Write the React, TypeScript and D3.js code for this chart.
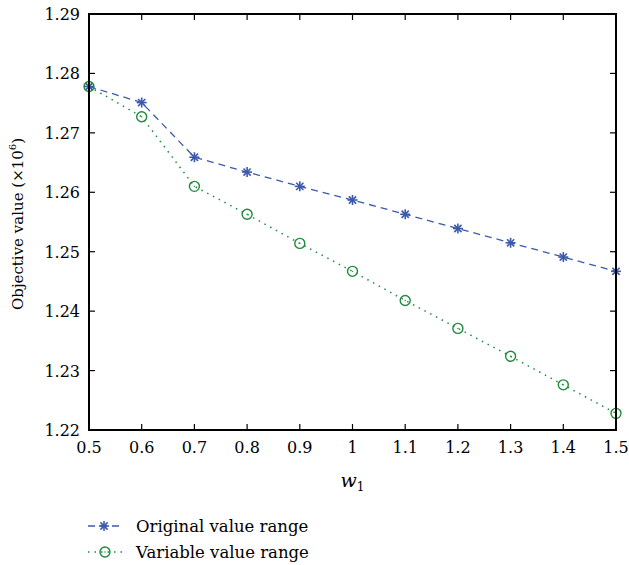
import React from "react";
import * as d3 from "d3";

const MARGIN = { top: 14, right: 13, bottom: 135, left: 89 };
const W = 629;
const H = 565;

const xValues = [0.5, 0.6, 0.7, 0.8, 0.9, 1.0, 1.1, 1.2, 1.3, 1.4, 1.5];
const originalRange = [1.2778, 1.2751, 1.2659, 1.2634, 1.2610, 1.2587, 1.2563, 1.2539, 1.2515, 1.2491, 1.2467];
const variableRange = [1.2778, 1.2727, 1.2610, 1.2563, 1.2514, 1.2467, 1.2418, 1.2371, 1.2324, 1.2276, 1.2228];
const xTicks = [0.5, 0.6, 0.7, 0.8, 0.9, 1, 1.1, 1.2, 1.3, 1.4, 1.5];
const yTicks = [1.22, 1.23, 1.24, 1.25, 1.26, 1.27, 1.28, 1.29];

const BLUE = "#3a5aab";
const GREEN = "#1f8a3c";
const FONT = "'DejaVu Serif', serif";

const Star = ({ x, y }: { x: number; y: number }) => {
  const r = 5;
  return (
    <g stroke={BLUE} strokeWidth={1.6}>
      <line x1={x - r} y1={y} x2={x + r} y2={y} />
      <line x1={x} y1={y - r} x2={x} y2={y + r} />
      <line x1={x - r * 0.72} y1={y - r * 0.72} x2={x + r * 0.72} y2={y + r * 0.72} />
      <line x1={x - r * 0.72} y1={y + r * 0.72} x2={x + r * 0.72} y2={y - r * 0.72} />
    </g>
  );
};

const Ring = ({ x, y }: { x: number; y: number }) => (
  <g>
    <circle cx={x} cy={y} r={5} fill="none" stroke={GREEN} strokeWidth={1.4} />
    <circle cx={x} cy={y} r={0.7} fill={GREEN} />
  </g>
);

const App = () => {
  const bw = W - MARGIN.left - MARGIN.right;
  const bh = H - MARGIN.top - MARGIN.bottom;
  const x = d3.scaleLinear().domain([0.5, 1.5]).range([0, bw]);
  const y = d3.scaleLinear().domain([1.22, 1.29]).range([bh, 0]);

  const line = d3
    .line<number>()
    .x((_, i) => x(xValues[i]))
    .y((d) => y(d));

  const tickLen = 6;

  return (
    <svg width={W} height={H} style={{ position: "absolute", left: 0, top: 0, background: "#fff", fontFamily: FONT }}>
      <g transform={`translate(${MARGIN.left},${MARGIN.top})`}>
        <path d={line(originalRange) || ""} fill="none" stroke={BLUE} strokeWidth={1.3} strokeDasharray="7,5" />
        <path d={line(variableRange) || ""} fill="none" stroke={GREEN} strokeWidth={1.5} strokeDasharray="1.5,5" />
        {originalRange.map((d, i) => (
          <Star key={"s" + i} x={x(xValues[i])} y={y(d)} />
        ))}
        {variableRange.map((d, i) => (
          <Ring key={"r" + i} x={x(xValues[i])} y={y(d)} />
        ))}

        {/* box */}
        <rect x={0} y={0} width={bw} height={bh} fill="none" stroke="#000" strokeWidth={2} />
        {xTicks.map((t) => (
          <g key={"xt" + t}>
            <line x1={x(t)} x2={x(t)} y1={bh} y2={bh - tickLen} stroke="#000" strokeWidth={1.2} />
            <line x1={x(t)} x2={x(t)} y1={0} y2={tickLen} stroke="#000" strokeWidth={1.2} />
            <text x={x(t)} y={bh + 23} textAnchor="middle" fontSize={16}>
              {String(t)}
            </text>
          </g>
        ))}
        {yTicks.map((t) => (
          <g key={"yt" + t}>
            <line x1={0} x2={tickLen} y1={y(t)} y2={y(t)} stroke="#000" strokeWidth={1.2} />
            <line x1={bw} x2={bw - tickLen} y1={y(t)} y2={y(t)} stroke="#000" strokeWidth={1.2} />
            <text x={-9} y={y(t) + 6} textAnchor="end" fontSize={16}>
              {t.toFixed(2)}
            </text>
          </g>
        ))}

        <text x={bw / 2} y={bh + 57} textAnchor="middle" fontSize={19} fontStyle="italic">
          w<tspan fontStyle="normal" fontSize={12} dy={4}>1</tspan>
        </text>
        <text transform={`translate(${-66},${bh / 2 + 2}) rotate(-90)`} textAnchor="middle" fontSize={15}>
          Objective value (×10<tspan fontSize={10} dy={-7}>6</tspan><tspan dy={7}>)</tspan>
        </text>
      </g>

      {/* legend */}
      <g fontSize={16.5}>
        <line x1={88} x2={123} y1={526} y2={526} stroke={BLUE} strokeWidth={1.3} strokeDasharray="7,5" />
        <Star x={104} y={526} />
        <text x={136} y={532}>Original value range</text>
        <line x1={88} x2={123} y1={552} y2={552} stroke={GREEN} strokeWidth={1.5} strokeDasharray="1.5,5" />
        <Ring x={105} y={552} />
        <text x={136} y={558}>Variable value range</text>
      </g>
    </svg>
  );
};

export default App;
